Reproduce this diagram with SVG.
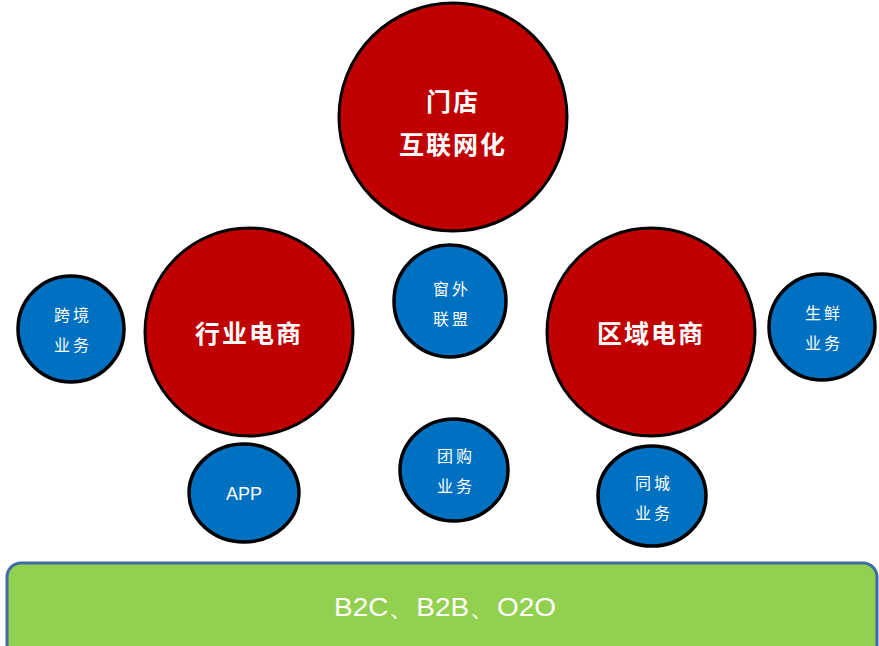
<svg xmlns="http://www.w3.org/2000/svg" width="879" height="646" viewBox="0 0 879 646">
<style>
.big{fill:#C00000;stroke:#000;stroke-width:3}
.small{fill:#0070C0;stroke:#000;stroke-width:3.5}
.tb{fill:#fff;font-family:"Noto Sans CJK SC","Noto Sans",sans-serif;font-size:25px;font-weight:bold;text-anchor:middle;dominant-baseline:central;letter-spacing:2px}
.ts{fill:#fff;font-family:"Noto Sans CJK SC","Noto Sans",sans-serif;font-size:16px;text-anchor:middle;dominant-baseline:central;letter-spacing:3px}
.lat{fill:#fff;font-family:"Liberation Sans",Arial,sans-serif;text-anchor:middle;dominant-baseline:central}
</style>
<rect width="879" height="646" fill="#fff"/>
<g id="connectors"></g>
<g id="base">
<rect x="7" y="563" width="870" height="100" rx="14" fill="#92D050" stroke="#3F6CA3" stroke-width="3"/>
<text class="lat" x="445" y="607" font-size="25" textLength="222" lengthAdjust="spacingAndGlyphs">B2C、B2B、O2O</text>
</g>
<g id="store">
<circle class="big" cx="453" cy="117" r="114"/>
<text class="tb" x="453" y="100">门店</text>
<text class="tb" x="453" y="143">互联网化</text>
</g>
<g id="industry">
<circle class="big" cx="249" cy="332" r="104"/>
<text class="tb" x="249" y="332">行业电商</text>
</g>
<g id="regional">
<circle class="big" cx="651" cy="332" r="104"/>
<text class="tb" x="651" y="332">区域电商</text>
</g>
<g id="crossborder">
<circle class="small" cx="71" cy="329" r="53"/>
<text class="ts" x="73" y="314">跨境</text>
<text class="ts" x="73" y="344">业务</text>
</g>
<g id="alliance">
<circle class="small" cx="450" cy="301" r="56"/>
<text class="ts" x="452" y="288">窗外</text>
<text class="ts" x="452" y="318">联盟</text>
</g>
<g id="fresh">
<circle class="small" cx="822" cy="327" r="53"/>
<text class="ts" x="824" y="312">生鲜</text>
<text class="ts" x="824" y="342">业务</text>
</g>
<g id="app">
<ellipse class="small" cx="244" cy="493" rx="55" ry="49"/>
<text class="lat" x="244" y="494" font-size="18">APP</text>
</g>
<g id="groupbuy">
<ellipse class="small" cx="454" cy="470" rx="54" ry="51"/>
<text class="ts" x="456" y="455">团购</text>
<text class="ts" x="456" y="485">业务</text>
</g>
<g id="samecity">
<ellipse class="small" cx="652" cy="496" rx="54" ry="50"/>
<text class="ts" x="654" y="482">同城</text>
<text class="ts" x="654" y="512">业务</text>
</g>
</svg>
